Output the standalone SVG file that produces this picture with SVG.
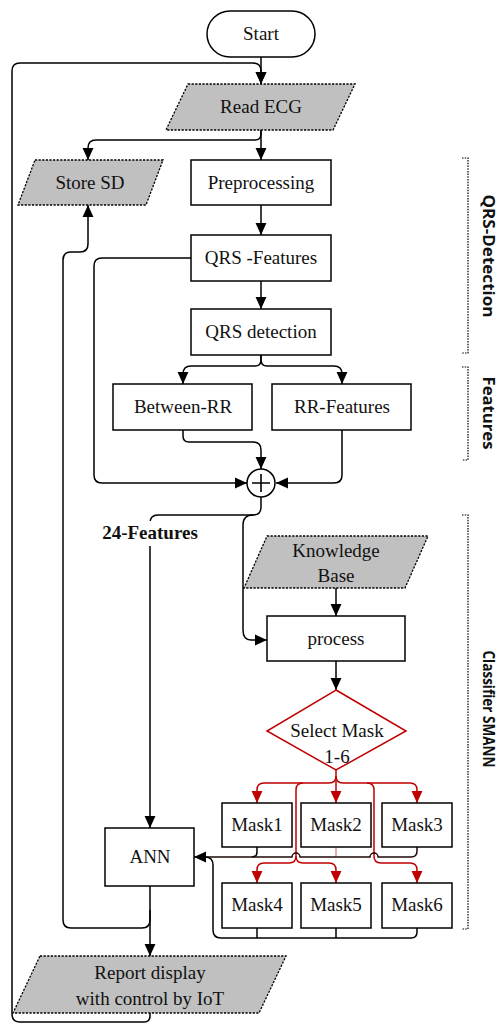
<svg xmlns="http://www.w3.org/2000/svg" width="499" height="1024" viewBox="0 0 499 1024">
<defs>
<marker id="ar" markerUnits="userSpaceOnUse" markerWidth="12" markerHeight="12" viewBox="0 0 11 10" refX="11" refY="5" orient="auto"><path d="M0,0 L11,5 L0,10 z" fill="#000"/></marker>
<marker id="arr" markerUnits="userSpaceOnUse" markerWidth="12" markerHeight="12" viewBox="0 0 11 10" refX="11" refY="5" orient="auto"><path d="M0,0 L11,5 L0,10 z" fill="#c00000"/></marker>
<style>
.box{fill:#fff;stroke:#000;stroke-width:1.5}
.io{fill:#c0c0c0;stroke:#000;stroke-width:1.3;stroke-dasharray:2.2 1.4}
.dia{fill:#fff;stroke:#c00000;stroke-width:1.5}
.t{font-family:"Liberation Serif","Times New Roman",serif;font-size:19px;fill:#111;text-anchor:middle}
.b{font-weight:bold}
.lab{font-family:"Open Sans","Noto Sans",sans-serif;font-size:16.5px;font-weight:bold;fill:#111;text-anchor:middle}
.c{fill:none;stroke:#000;stroke-width:1.5}
.r{fill:none;stroke:#c00000;stroke-width:1.5}
.br{fill:none;stroke:#000;stroke-width:1.2;stroke-dasharray:1.5 1.2}
</style>
</defs>

<g id="connectors">
<path class="c" d="M261,57 V84" marker-end="url(#ar)"/>
<path class="c" d="M150,1013 V1016 Q150,1022 144,1022 H20 Q12,1022 12,1014 V71 Q12,63 20,63 H253 Q261,63 261,71 V84" marker-end="url(#ar)"/>
<path class="c" d="M261,130 V160" marker-end="url(#ar)"/>
<path class="c" d="M261,130 V134 Q261,140 255,140 H96 Q88,140 88,148 V160" marker-end="url(#ar)"/>
<path class="c" d="M261,205 V235" marker-end="url(#ar)"/>
<path class="c" d="M261,281 V309" marker-end="url(#ar)"/>
<path class="c" d="M261,355 V360 Q261,366 255,366 H191 Q183,366 183,374 V384" marker-end="url(#ar)"/>
<path class="c" d="M261,355 V360 Q261,366 267,366 H334 Q342,366 342,374 V384" marker-end="url(#ar)"/>
<path class="c" d="M183,430 V436 Q183,442 189,442 H253 Q261,442 261,450 V469" marker-end="url(#ar)"/>
<path class="c" d="M342,430 V475 Q342,483 334,483 H276" marker-end="url(#ar)"/>
<path class="c" d="M191,258 H102 Q94,258 94,266 V475 Q94,483 102,483 H247" marker-end="url(#ar)"/>
<path class="c" d="M261,497 V507 Q261,515 253,515 H158 Q150,515 150,523 V828" marker-end="url(#ar)"/>
<path class="c" d="M253,515 Q243,515 243,525 V630 Q243,640 251,640 H267" marker-end="url(#ar)"/>
<path class="c" d="M336,588 V616" marker-end="url(#ar)"/>
<path class="c" d="M336,661 V690" marker-end="url(#ar)"/>
<path class="c" d="M150,886 V956" marker-end="url(#ar)"/>
<path class="c" d="M150,910 V920 Q150,928 142,928 H71 Q63,928 63,920 V260 Q63,252 71,252 H80 Q88,252 88,244 V205" marker-end="url(#ar)"/>
<path class="r" d="M336,770 V803" marker-end="url(#arr)"/>
<path class="r" d="M336,776 Q336,783 329,783 H264 Q257,783 257,790 V803" marker-end="url(#arr)"/>
<path class="r" d="M336,776 Q336,783 343,783 H410 Q417,783 417,790 V803" marker-end="url(#arr)"/>
<path class="r" d="M303,783 Q296,783 296,790 V856 Q296,863 289,863 H264 Q257,863 257,870 V883" marker-end="url(#arr)"/>
<path class="r" d="M296,856 Q296,863 303,863 H329 Q336,863 336,870 V883" marker-end="url(#arr)"/>
<path class="r" d="M367,783 Q374,783 374,790 V856 Q374,863 381,863 H410 Q417,863 417,870 V883" marker-end="url(#arr)"/>
<path class="c" d="M336,847 V857" style="stroke:#e09090"/>
<path class="c" d="M257,847 V852 Q257,857 252,857"/>
<path class="c" d="M417,847 V851 Q417,857 411,857 H378 A4,4 0 0 0 370,857 H300 A4,4 0 0 0 292,857 H194" style="stroke:#1e0a0a" marker-end="url(#ar)"/>
<path class="c" d="M417,928 V932 Q417,938 411,938 H221 Q213,938 213,930 V865 Q213,857 205,857"/>
<path class="c" d="M257,928 V938"/>
<path class="c" d="M336,928 V938"/>
</g>

<g id="start"><rect class="box" x="207" y="11" width="108" height="46" rx="23"/><text class="t" x="261" y="40">Start</text></g>
<g id="read-ecg"><polygon class="io" points="188,84 355,84 333,130 166,130"/><text class="t" x="261" y="113">Read ECG</text></g>
<g id="store-sd"><polygon class="io" points="35,160 163,160 146,205 18,205"/><text class="t" x="90" y="189">Store SD</text></g>
<g id="preprocessing"><rect class="box" x="191" y="160" width="140" height="45"/><text class="t" x="261" y="189">Preprocessing</text></g>
<g id="qrs-features"><rect class="box" x="191" y="235" width="140" height="46"/><text class="t" x="261" y="264">QRS -Features</text></g>
<g id="qrs-detection"><rect class="box" x="191" y="309" width="140" height="46"/><text class="t" x="261" y="338">QRS detection</text></g>
<g id="between-rr"><rect class="box" x="113" y="384" width="139" height="46"/><text class="t" x="183" y="413">Between-RR</text></g>
<g id="rr-features"><rect class="box" x="272" y="384" width="139" height="46"/><text class="t" x="342" y="413">RR-Features</text></g>
<g id="sum"><circle cx="261" cy="483" r="14" fill="#fff" stroke="#000" stroke-width="1.5"/><path d="M252,483 H270 M261,474 V492" stroke="#000" stroke-width="1.6"/></g>
<g id="label-24"><rect x="98" y="521" width="104" height="25" fill="#fff"/><text class="t b" x="150" y="539">24-Features</text></g>
<g id="knowledge-base"><polygon class="io" points="267,536 428,536 405,588 244,588"/><text class="t" x="336" y="557">Knowledge</text><text class="t" x="336" y="582">Base</text></g>
<g id="process"><rect class="box" x="267" y="616" width="138" height="45"/><text class="t" x="336" y="645">process</text></g>
<g id="select-mask"><polygon class="dia" points="336,690 406,731 336,770 267,731"/><text class="t" x="337" y="737">Select Mask</text><text class="t" x="337" y="763">1-6</text></g>
<g id="mask1"><rect class="box" x="222" y="803" width="70" height="44"/><text class="t" x="257" y="831">Mask1</text></g>
<g id="mask2"><rect class="box" x="301" y="803" width="70" height="44"/><text class="t" x="336" y="831">Mask2</text></g>
<g id="mask3"><rect class="box" x="382" y="803" width="70" height="44"/><text class="t" x="417" y="831">Mask3</text></g>
<g id="mask4"><rect class="box" x="222" y="883" width="70" height="45"/><text class="t" x="257" y="911">Mask4</text></g>
<g id="mask5"><rect class="box" x="301" y="883" width="70" height="45"/><text class="t" x="336" y="911">Mask5</text></g>
<g id="mask6"><rect class="box" x="382" y="883" width="70" height="45"/><text class="t" x="417" y="911">Mask6</text></g>
<g id="ann"><rect class="box" x="105" y="828" width="89" height="58"/><text class="t" x="150" y="863">ANN</text></g>
<g id="report"><polygon class="io" points="40,956 286,956 259,1013 13,1013"/><text class="t" x="150" y="979">Report display</text><text class="t" x="150" y="1005">with control by IoT</text></g>

<g id="group-qrs"><path class="br" d="M462,158 H468 V353 H462"/><text class="lab" transform="translate(489,256) rotate(90)" x="0" y="6" textLength="123" lengthAdjust="spacingAndGlyphs">QRS-Detection</text></g>
<g id="group-features"><path class="br" d="M462,367 H468 V460 H462"/><text class="lab" transform="translate(489,413) rotate(90)" x="0" y="6" textLength="73" lengthAdjust="spacingAndGlyphs">Features</text></g>
<g id="group-classifier"><path class="br" d="M462,515 H468 V929 H462"/><text class="lab" transform="translate(489,709) rotate(90)" x="0" y="6" textLength="117" lengthAdjust="spacingAndGlyphs">Classifier SMANN</text></g>
</svg>
